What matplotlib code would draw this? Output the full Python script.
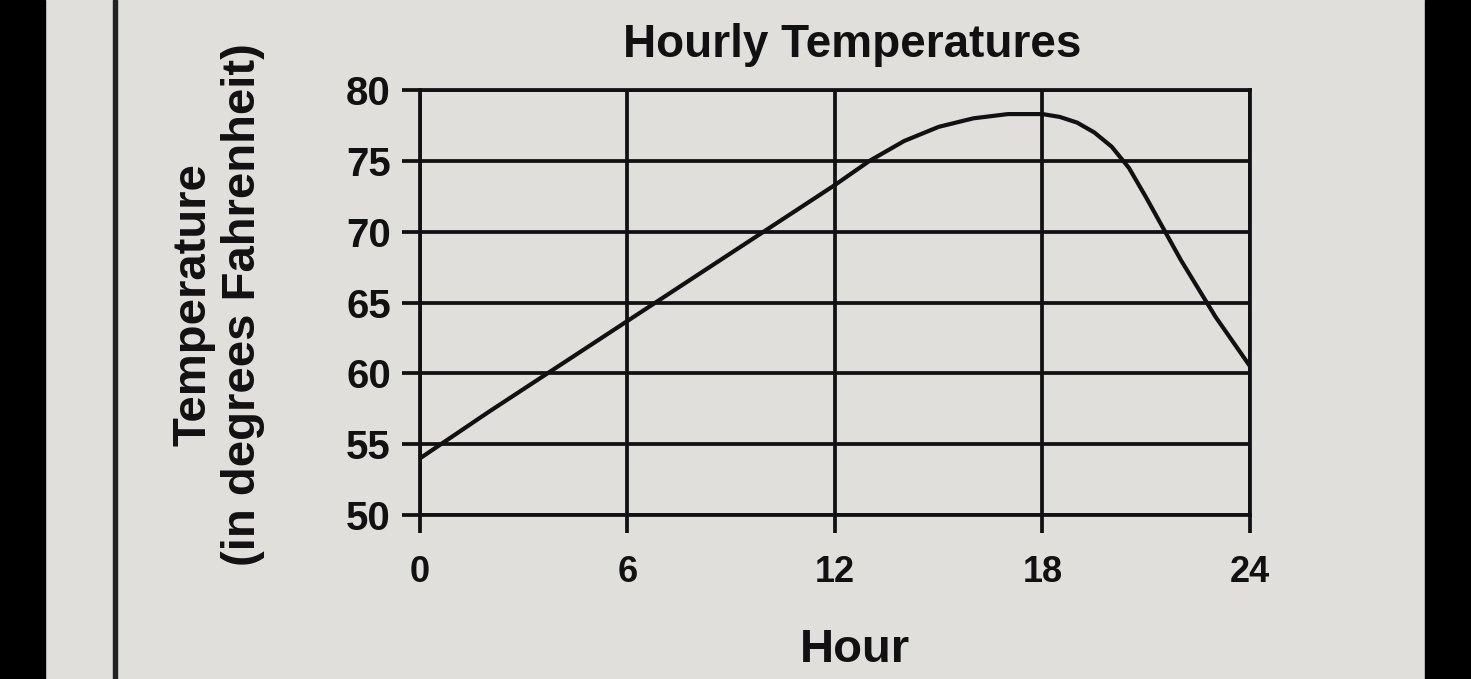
import matplotlib
matplotlib.use("Agg")
import matplotlib.pyplot as plt
from matplotlib.patches import Rectangle

# values
hours = [0, 2, 4, 6, 8, 10, 12, 13, 14, 15, 16, 17, 18, 18.5, 19, 19.5, 20, 20.5,
         21, 22, 23, 24]
temps = [54, 57.3, 60.5, 63.7, 66.9, 70.1, 73.3, 75.0, 76.4, 77.4, 78.0, 78.3, 78.3,
         78.1, 77.7, 77.0, 76.0, 74.5, 72.4, 68.0, 64.0, 60.5]
x_ticks = [0, 6, 12, 18, 24]
y_ticks = [50, 55, 60, 65, 70, 75, 80]

title = "Hourly Temperatures"
x_label = "Hour"
y_label = "Temperature\n(in degrees Fahrenheit)"

paper = "#e0dfdb"
ink = "#111111"

plt.rcParams['font.family'] = ['Liberation Sans', 'DejaVu Sans']
plt.rcParams['font.weight'] = 'bold'

fig = plt.figure(figsize=(14.71, 6.79), dpi=100, facecolor=paper)

# dark photo borders and the page edge line
fig.patches.append(Rectangle((0, 0), 45 / 1471, 1, transform=fig.transFigure,
                             color="black", zorder=0))
fig.patches.append(Rectangle((1 - 46 / 1471, 0), 46 / 1471, 1, transform=fig.transFigure,
                             color="black", zorder=0))
fig.patches.append(Rectangle((113 / 1471, 0), 4 / 1471, 1, transform=fig.transFigure,
                             color="#222222", zorder=0))

# axes box in pixels: left 420, right 1250, top 90, bottom 515
ax = fig.add_axes([420 / 1471, 1 - 515 / 679, 830 / 1471, 425 / 679])
ax.set_facecolor(paper)

ax.plot(hours, temps, color=ink, lw=3, solid_capstyle='round', zorder=3)

ax.set_xlim(0, 24)
ax.set_ylim(50, 80)
ax.set_xticks(x_ticks)
ax.set_yticks(y_ticks)
ax.grid(True, color=ink, lw=2.7)
for s in ax.spines.values():
    s.set_color(ink)
    s.set_linewidth(2.7)

ax.tick_params(axis='both', direction='out', length=13, width=2.7, color=ink,
               labelcolor=ink)
ax.tick_params(axis='x', pad=16, labelsize=26)
ax.tick_params(axis='y', pad=8, labelsize=29)

fig.text(852 / 1471, 1 - 45 / 679, title, ha='center', va='center',
         fontsize=33, fontweight='bold', color=ink)
fig.text(855 / 1471, 1 - 650 / 679, x_label, ha='center', va='center',
         fontsize=34, fontweight='bold', color=ink)
fig.text(218 / 1471, 1 - 305 / 679, y_label, ha='center', va='center',
         rotation=90, multialignment='center', fontsize=34, fontweight='bold',
         color=ink, linespacing=1.15)

fig.savefig("out.png", dpi=100, facecolor=paper)
